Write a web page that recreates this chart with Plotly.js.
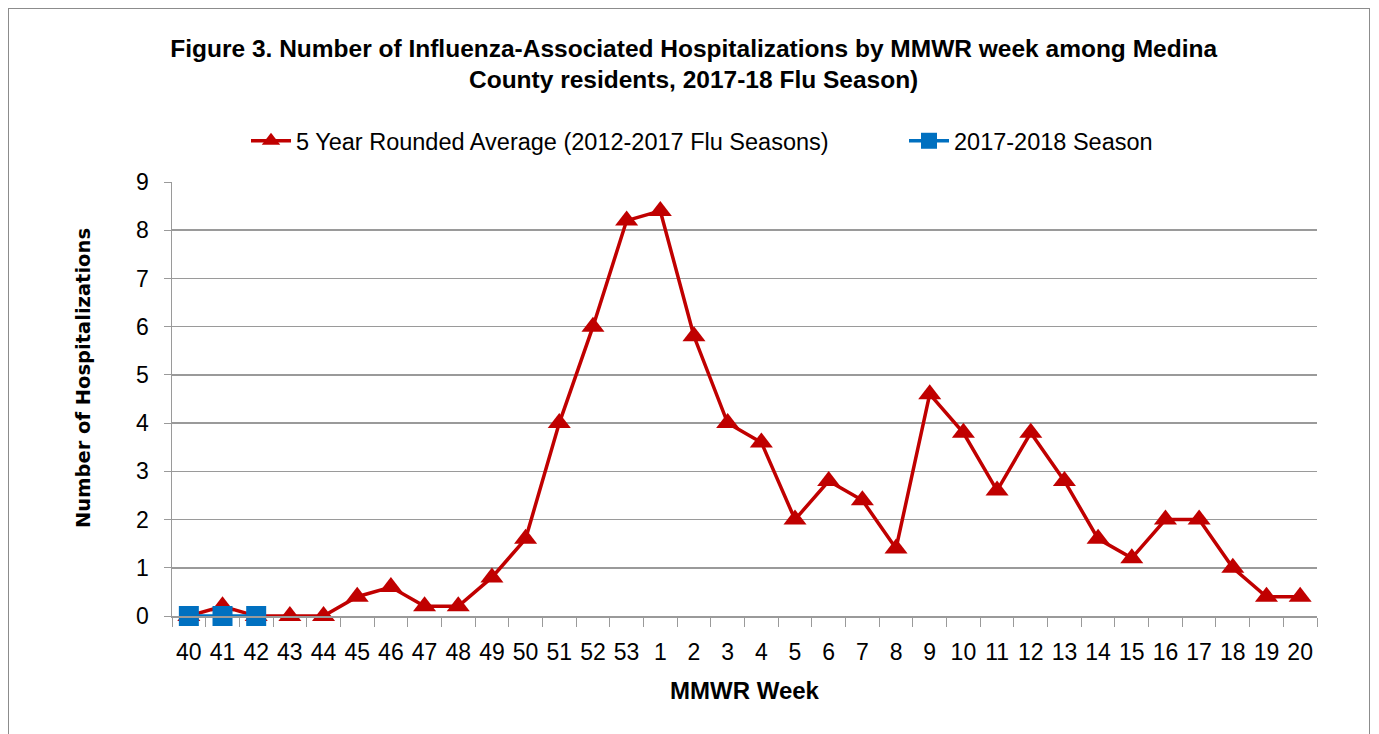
<!DOCTYPE html>
<html>
<head>
<meta charset="utf-8">
<script src="https://cdn.plot.ly/plotly-3.0.1.min.js"></script>
<style>
  html, body { margin: 0; padding: 0; background: #fff; }
  #frame { position: absolute; left: 8px; top: 8px; width: 1362px; height: 740px; border: 1px solid #8c8c8c; box-sizing: border-box; }
  #chart { position: absolute; left: 0; top: 0; width: 1379px; height: 734px; }
</style>
</head>
<body>
<div id="frame"></div>
<div id="chart"></div>
<script>
const weeks = ['40','41','42','43','44','45','46','47','48','49','50','51','52','53','1','2','3','4','5','6','7','8','9','10','11','12','13','14','15','16','17','18','19','20'];
const avgValues = [0,0.2,0,0,0,0.4,0.6,0.2,0.2,0.8,1.6,4,6,8.2,8.4,5.8,4,3.6,2,2.8,2.4,1.4,4.6,3.8,2.6,3.8,2.8,1.6,1.2,2,2,1,0.4,0.4];
const seasonWeeks = ['40','41','42'];
const seasonValues = [0,0,0];
const yTicks = [0,1,2,3,4,5,6,7,8,9];

const FONT = '"Liberation Sans", Arial, sans-serif';
const AXIS_GREY = '#9a9a9a';

const traces = [
  {
    x: weeks, y: avgValues, type: 'scatter', mode: 'lines+markers',
    name: '5 Year Rounded Average (2012-2017 Flu Seasons)',
    line: {color: '#C00000', width: 3.5},
    marker: {symbol: 'triangle-up', size: 20, color: '#C00000'},
    cliponaxis: false, legend: 'legend'
  },
  {
    x: seasonWeeks, y: seasonValues, type: 'scatter', mode: 'lines+markers',
    name: '2017-2018 Season',
    line: {color: '#0070C0', width: 3.5},
    marker: {symbol: 'square', size: 20, color: '#0070C0'},
    cliponaxis: false, legend: 'legend2'
  }
];

const legendBase = {
  orientation: 'h', xanchor: 'left', y: 1.0945, yanchor: 'middle',
  font: {family: FONT, size: 23.5, color: '#000'},
  itemwidth: 40, bgcolor: 'rgba(0,0,0,0)'
};

const layout = {
  width: 1379, height: 734,
  paper_bgcolor: 'rgba(0,0,0,0)', plot_bgcolor: 'rgba(0,0,0,0)',
  margin: {l: 172, r: 62, t: 182, b: 118},
  font: {family: FONT, size: 22, color: '#000'},
  title: {
    text: '<b>Figure 3. Number of Influenza-Associated Hospitalizations by MMWR week among Medina<br>County residents, 2017-18 Flu Season)</b>',
    x: 0.503, xanchor: 'center', y: 0.923, yanchor: 'middle',
    font: {family: FONT, size: 24.5, color: '#000'}
  },
  showlegend: true,
  legend: Object.assign({}, legendBase, {x: (246 - 172) / 1145}),
  legend2: Object.assign({}, legendBase, {x: (904 - 172) / 1145}),
  xaxis: {
    type: 'category', categoryorder: 'array', categoryarray: weeks,
    range: [-0.5, weeks.length - 0.5],
    showgrid: false, showline: true, linecolor: AXIS_GREY, linewidth: 1.5,
    ticks: 'outside', tickson: 'boundaries', ticklen: 9, tickcolor: AXIS_GREY,
    ticklabelstandoff: 15, tickangle: 0,
    tickfont: {family: FONT, size: 23, color: '#000'},
    title: {text: '<b>MMWR Week</b>', font: {family: FONT, size: 24, color: '#000'}, standoff: 18},
    zeroline: false, fixedrange: true
  },
  yaxis: {
    range: [0, 9], tickvals: yTicks, ticktext: yTicks.map(String),
    showgrid: true, gridcolor: AXIS_GREY, gridwidth: 1.5,
    showline: true, linecolor: AXIS_GREY, linewidth: 1.5,
    ticks: 'outside', ticklen: 7, tickcolor: AXIS_GREY,
    ticklabelstandoff: 10,
    tickfont: {family: FONT, size: 23, color: '#000'},
    zeroline: false, fixedrange: true
  },
  annotations: [{
    text: '<b>Number of Hospitalizations</b>',
    xref: 'paper', yref: 'paper',
    x: (83 - 172) / 1145, y: (616 - 378) / 434,
    xanchor: 'center', yanchor: 'middle', textangle: -90, showarrow: false,
    font: {family: '"DejaVu Sans", Verdana, sans-serif', size: 19.5, color: '#000'}
  }]
};

Plotly.newPlot('chart', traces, layout, {displayModeBar: false, staticPlot: true});
</script>
</body>
</html>
